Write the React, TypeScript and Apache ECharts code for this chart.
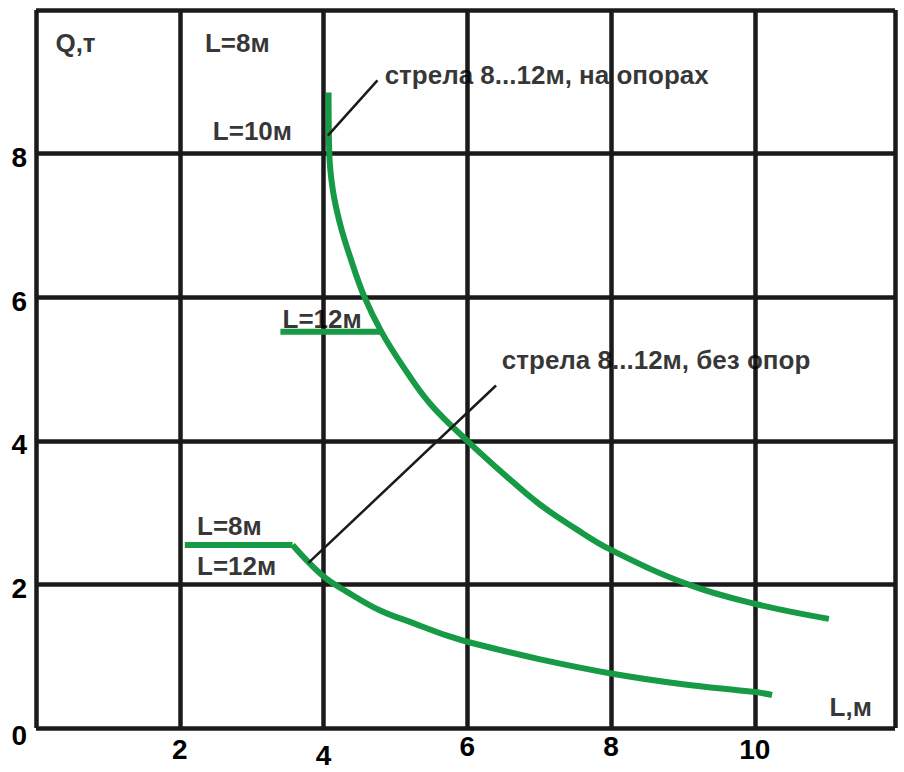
import React, { useEffect, useRef } from "react";
import * as echarts from "echarts";

// Upper curve: "стрела 8...12м, на опорах"
const upperL = [4.07, 4.08, 4.13, 4.23, 4.37, 4.57, 4.81, 5.11, 5.48, 6.0, 6.55, 7.0, 7.5, 8.0, 9.07, 10.0, 11.03];
const upperQ = [8.85, 8.0, 7.49, 7.02, 6.56, 6.0, 5.51, 5.03, 4.52, 4.0, 3.5, 3.12, 2.78, 2.48, 2.0, 1.73, 1.52];
// L=12м horizontal step
const upperFlatL = [3.4, 4.81];
const upperFlatQ = [5.52, 5.52];
// Lower curve: "стрела 8...12м, без опор"
const lowerFlatL = [2.07, 3.57];
const lowerFlatQ = [2.55, 2.55];
const lowerL = [3.57, 3.81, 4.04, 4.32, 4.78, 5.25, 5.71, 6.08, 7.0, 8.0, 9.0, 10.0, 10.24];
const lowerQ = [2.55, 2.29, 2.08, 1.9, 1.64, 1.46, 1.29, 1.18, 0.96, 0.76, 0.61, 0.5, 0.46];
// Leader lines
const leader1L = [4.06, 4.75];
const leader1Q = [8.25, 9.02];
const leader2L = [3.79, 6.4];
const leader2Q = [2.3, 4.77];
// Annotation texts
const noteTexts = ["Q,т", "L=8м", "L=10м", "стрела 8...12м, на опорах", "L=12м", "стрела 8...12м, без опор", "L=8м", "L=12м", "L,м"];
const noteL = [0.27, 2.35, 2.46, 4.85, 3.43, 6.48, 2.24, 2.24, 11.04];
const noteQ = [9.54, 9.54, 8.31, 9.09, 5.7, 5.12, 2.82, 2.25, 0.29];
// Axis ticks
const xTicks = [2, 4, 6, 8, 10];
const yTicks = [0, 2, 4, 6, 8];

const GREEN = "#179a45";
const INK = "#1a1a1a";
const TEXT = "#000000";
const FONT = "Liberation Sans, Arial, sans-serif";

const zip = (a: number[], b: number[]) => a.map((v, i) => [v, b[i]]);

export default function App() {
  const ref = useRef<HTMLDivElement>(null);
  useEffect(() => {
    if (!ref.current) return;
    const chart = echarts.init(ref.current, null, { renderer: "svg" });
    const gridLine = { show: true, lineStyle: { color: INK, width: 4.5 } };
    const greenLine = (name: string, data: number[][], smooth: number | boolean) => ({
      name,
      type: "line",
      data,
      smooth,
      symbol: "none",
      lineStyle: { color: GREEN, width: 6, cap: "butt" },
      z: 5,
    });
    const blackLine = (name: string, data: number[][]) => ({
      name,
      type: "line",
      data,
      symbol: "none",
      lineStyle: { color: INK, width: 2.5 },
      z: 6,
    });
    const tickStyle = (pad: number) => ({
      fontSize: 28,
      fontWeight: "bold",
      fontFamily: FONT,
      color: TEXT,
      padding: [pad, 0, 0, 0],
    });
    chart.setOption({
      animation: false,
      backgroundColor: "#ffffff",
      grid: { left: 36, right: 9, top: 10, bottom: 44, containLabel: false },
      xAxis: {
        type: "value",
        min: 0,
        max: 11.95,
        interval: 2,
        axisLine: { show: false },
        axisTick: { show: false },
        splitLine: gridLine,
        axisLabel: {
          margin: 4,
          color: TEXT,
          fontFamily: FONT,
          fontWeight: "bold",
          fontSize: 28,
          formatter: (v: number) => {
            if (!xTicks.includes(v)) return "";
            const key = v === 4 ? "c" : v === 2 || v === 10 ? "b" : "a";
            return `{${key}|${v}}`;
          },
          rich: { a: tickStyle(0), b: tickStyle(3), c: tickStyle(9) },
        },
      },
      yAxis: {
        type: "value",
        min: 0,
        max: 10,
        interval: 2,
        axisLine: { show: false },
        axisTick: { show: false },
        splitLine: gridLine,
        axisLabel: {
          margin: 9,
          color: TEXT,
          fontFamily: FONT,
          fontWeight: "bold",
          fontSize: 28,
          formatter: (v: number) => {
            if (!yTicks.includes(v)) return "";
            return v === 0 ? `{z|${v}}` : `{a|${v}}`;
          },
          rich: { a: tickStyle(8), z: tickStyle(14) },
        },
      },
      series: [
        greenLine("на опорах", zip(upperL, upperQ), 0.4),
        greenLine("L=12м на опорах", zip(upperFlatL, upperFlatQ), false),
        greenLine("без опор L=8м", zip(lowerFlatL, lowerFlatQ), false),
        greenLine("без опор", zip(lowerL, lowerQ), 0.4),
        blackLine("выноска 1", zip(leader1L, leader1Q)),
        blackLine("выноска 2", zip(leader2L, leader2Q)),
        {
          name: "подписи",
          type: "scatter",
          symbolSize: 0,
          z: 10,
          data: noteTexts.map((t, i) => ({ value: [noteL[i], noteQ[i]], name: t })),
          label: {
            show: true,
            position: "right",
            distance: 0,
            formatter: (p: any) => p.name,
            color: TEXT,
            fontFamily: FONT,
            fontWeight: "bold",
            fontSize: 26,
          },
        },
      ],
    });
    return () => chart.dispose();
  }, []);
  return (
    <div
      ref={ref}
      style={{ position: "fixed", left: 0, top: 0, width: 904, height: 772, background: "#fff" }}
    />
  );
}
